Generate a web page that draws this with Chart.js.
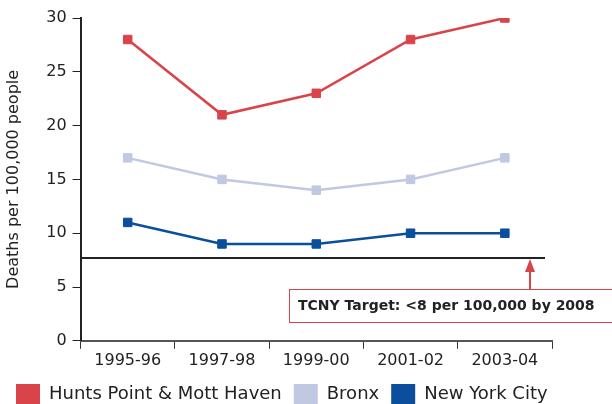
<!DOCTYPE html>
<html>
<head>
<meta charset="utf-8">
<script src="https://cdn.jsdelivr.net/npm/chart.js@4"></script>
<style>
  html, body { margin: 0; padding: 0; background: #fff; }
  #wrap { width: 612px; height: 404px; }
</style>
</head>
<body>
<div id="wrap"><canvas id="chart" width="612" height="404"></canvas></div>
<script>
const years = ["1995-96", "1997-98", "1999-00", "2001-02", "2003-04"];
const huntsPoint = [28, 21, 23, 28, 30];
const bronx = [17, 15, 14, 15, 17];
const nyc = [11, 9, 9, 10, 10];
const targetValue = 7.7;
const targetLabel = "TCNY Target: <8 per 100,000 by 2008";

const FONT = "'DejaVu Sans', sans-serif";

// target line + callout box
const targetPlugin = {
  id: "target",
  afterDatasetsDraw(chart) {
    const { ctx, chartArea, scales } = chart;
    const y = scales.y.getPixelForValue(targetValue);
    ctx.save();
    ctx.strokeStyle = "#222";
    ctx.lineWidth = 2;
    ctx.beginPath();
    ctx.moveTo(chartArea.left, y);
    ctx.lineTo(chartArea.right - 7, y);
    ctx.stroke();

    // callout box
    const bx = 289, by = 289, bw = 340, bh = 33;
    ctx.fillStyle = "#fff";
    ctx.fillRect(bx, by, bw, bh);
    ctx.strokeStyle = "#d9444a";
    ctx.lineWidth = 1;
    ctx.strokeRect(bx + 0.5, by + 0.5, bw, bh);
    ctx.fillStyle = "#222";
    ctx.font = "bold 14px " + FONT;
    ctx.textBaseline = "middle";
    ctx.fillText(targetLabel, bx + 9, by + bh / 2 + 1);

    // arrow
    const ax = 530;
    ctx.strokeStyle = "#d9444a";
    ctx.fillStyle = "#d9444a";
    ctx.lineWidth = 2;
    ctx.beginPath();
    ctx.moveTo(ax, by);
    ctx.lineTo(ax, y + 8);
    ctx.stroke();
    ctx.beginPath();
    ctx.moveTo(ax, y + 1);
    ctx.lineTo(ax - 5, y + 14);
    ctx.lineTo(ax + 5, y + 14);
    ctx.closePath();
    ctx.fill();
    ctx.restore();
  }
};

function series(label, data, color) {
  return {
    label: label,
    data: data,
    borderColor: color,
    backgroundColor: color,
    borderWidth: 2.5,
    pointStyle: "rect",
    pointRadius: 6,
    pointBorderWidth: 1,
    pointHoverRadius: 6,
    tension: 0
  };
}

new Chart(document.getElementById("chart"), {
  type: "line",
  data: {
    labels: years,
    datasets: [
      series("Hunts Point & Mott Haven", huntsPoint, "#d9444a"),
      series("Bronx", bronx, "#c0c8e2"),
      series("New York City", nyc, "#0b4f9c")
    ]
  },
  options: {
    responsive: false,
    animation: false,
    layout: { padding: { top: 18, right: 0, left: 4, bottom: -10 } },
    plugins: {
      legend: {
        position: "bottom",
        align: "start",
        labels: {
          color: "#222",
          font: { family: FONT, size: 18 },
          boxWidth: 24,
          boxHeight: 20,
          padding: 12,
          generateLabels(chart) {
            return chart.data.datasets.map((ds, i) => ({
              text: ds.label,
              fillStyle: ds.borderColor,
              strokeStyle: ds.borderColor,
              lineWidth: 0,
              hidden: false,
              datasetIndex: i,
              fontColor: "#222"
            }));
          }
        }
      },
      tooltip: { enabled: false }
    },
    scales: {
      x: {
        offset: true,
        grid: { drawOnChartArea: false, color: "#333", tickLength: 8, offset: true },
        border: { color: "#555", width: 2 },
        ticks: { color: "#222", font: { family: FONT, size: 16 }, padding: 2 }
      },
      y: {
        min: 0,
        max: 30,
        grid: { drawOnChartArea: false, color: "#222", tickLength: 8 },
        border: { color: "#222", width: 2 },
        ticks: { stepSize: 5, color: "#222", font: { family: FONT, size: 16 }, padding: 6 },
        title: {
          display: true,
          text: "Deaths per 100,000 people",
          color: "#222",
          font: { family: FONT, size: 16 },
          padding: { top: 0, bottom: 17 }
        }
      },
      // empty right-hand axis, only reserves the blank margin right of the plot
      spacer: {
        position: "right",
        grid: { display: false },
        border: { display: false },
        ticks: { display: false },
        afterFit(scale) { scale.width = 60; }
      }
    }
  },
  plugins: [targetPlugin]
});
</script>
</body>
</html>
